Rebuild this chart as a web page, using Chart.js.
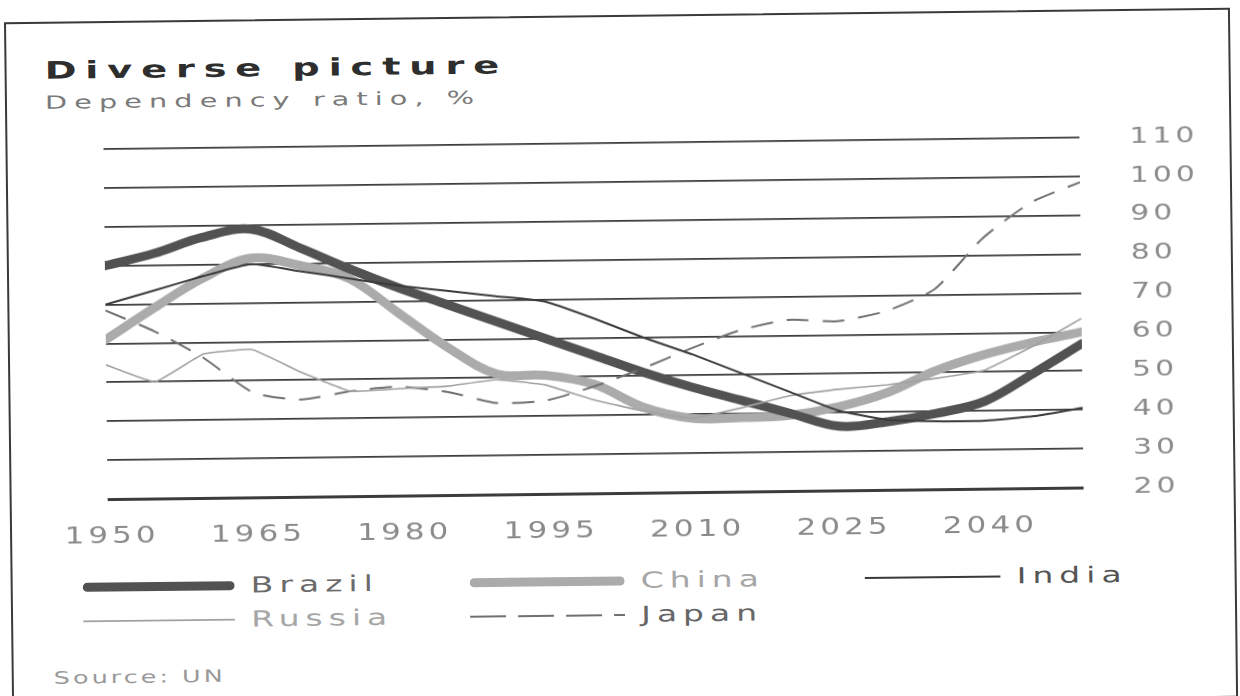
<!DOCTYPE html>
<html>
<head>
<meta charset="utf-8">
<script src="https://cdn.jsdelivr.net/npm/chart.js@4.4.1/dist/chart.umd.min.js"></script>
<style>
  html, body { margin: 0; padding: 0; background: #ffffff; width: 1240px; height: 696px; overflow: hidden; }
  #sheet { position: absolute; left: 0; top: 0; width: 1240px; height: 696px;
           transform: rotate(-0.68deg); transform-origin: 620px 356px; }
  #frame { position: absolute; left: 8px; top: 15px; width: 1226px; height: 690px;
           border: 2px solid #3a3a3a; box-sizing: border-box; }
  .txt { position: absolute; white-space: nowrap; font-family: "DejaVu Sans", sans-serif;
         transform-origin: 0 50%; }
  #title { left: 48px; top: 52px; font-size: 24px; line-height: 24px; font-weight: bold;
           color: #2e2e2e; letter-spacing: 5.5px; transform: scaleX(1.6); }
  #subtitle { left: 48px; top: 87px; font-size: 18px; line-height: 18px; color: #7a7a7a;
              letter-spacing: 4.4px; transform: scaleX(1.6); }
  #source { left: 50px; top: 663px; font-size: 17px; line-height: 17px; color: #9a9a9a;
            letter-spacing: 2px; transform: scaleX(1.5); }
  #chart { position: absolute; left: 0; top: 120px; }
  .leg { position: absolute; height: 22px; }
  .leg svg { position: absolute; left: 0; top: 0; }
  .legtxt { position: absolute; top: 0; font-size: 22px; line-height: 22px; letter-spacing: 4px;
            transform: scaleX(1.5); }
</style>
</head>
<body>
<div id="sheet">
  <div id="frame"></div>
  <div id="title" class="txt">Diverse picture</div>
  <div id="subtitle" class="txt">Dependency ratio, %</div>
  <canvas id="chart" width="1240" height="440"></canvas>
  <div id="legend"></div>
  <div id="source" class="txt">Source: UN</div>
</div>
<script>
// Dependency ratio (%), every five years
const years  = [1950, 1955, 1960, 1965, 1970, 1975, 1980, 1985, 1990, 1995, 2000,
                2005, 2010, 2015, 2020, 2025, 2030, 2035, 2040, 2045, 2050];
const brazil = [80, 83, 87, 89, 84, 78.5, 73.5, 69, 64.5, 60, 55.5,
                51, 47, 43.5, 40, 36.5, 37.5, 39.5, 42.5, 49.5, 57];
const china  = [61, 69, 76.5, 81.5, 79.5, 76, 67, 58, 51, 50.5, 48,
                42, 39, 39, 39.5, 41.5, 45, 50.5, 54.5, 57.5, 60];
const india  = [70, 73.5, 77, 80, 78, 76, 74, 72.5, 71, 69.5, 65,
                60, 55.5, 50.5, 45.5, 40.5, 38, 37.5, 37.5, 38.5, 40.5];
const russia = [54.5, 50, 57, 58, 52, 47, 47.5, 48, 49.5, 48, 44,
                41, 39, 41.5, 44.5, 46, 47, 48.5, 50.5, 56.5, 63.5];
const japan  = [68.5, 63, 56, 47, 45, 47, 48, 46.5, 43.5, 44, 47.5,
                52, 57, 61.5, 64, 63.5, 66, 71.5, 84.5, 93.5, 98.5];

const seriesNames = ['Brazil', 'China', 'India', 'Russia', 'Japan'];
const xTicks = [1950, 1965, 1980, 1995, 2010, 2025, 2040];
const yTicks = [20, 30, 40, 50, 60, 70, 80, 90, 100, 110];

const toPoints = vals => years.map((yr, i) => ({ x: yr, y: vals[i] }));

const datasets = [
  { label: seriesNames[0], data: toPoints(brazil), borderColor: '#525252', borderWidth: 9,
    tension: 0.35, borderCapStyle: 'round', borderJoinStyle: 'round', order: 1 },
  { label: seriesNames[1], data: toPoints(china), borderColor: '#ababab', borderWidth: 9,
    tension: 0.35, borderCapStyle: 'round', borderJoinStyle: 'round', order: 2 },
  { label: seriesNames[2], data: toPoints(india), borderColor: '#3a3a3a', borderWidth: 2,
    tension: 0.15, order: 0 },
  { label: seriesNames[3], data: toPoints(russia), borderColor: '#a2a2a2', borderWidth: 1.6,
    tension: 0.1, order: 0 },
  { label: seriesNames[4], data: toPoints(japan), borderColor: '#707070', borderWidth: 2,
    borderDash: [22, 14], tension: 0.2, order: 0 }
];

// Wide, slightly spaced axis lettering: each label is stretched about its anchor point
const TEXT_STRETCH = 1.35;
const wideText = {
  id: 'wideText',
  beforeDraw(chart) {
    const ctx = chart.ctx;
    ctx.letterSpacing = '3px';
    if (!ctx._plainFillText) {
      ctx._plainFillText = ctx.fillText;
      ctx.fillText = function (text, x, y, maxWidth) {
        this.save();
        this.translate(x, y);
        this.scale(TEXT_STRETCH, 1);
        this._plainFillText(text, 0, 0);
        this.restore();
      };
    }
  },
  afterDraw(chart) { chart.ctx.letterSpacing = '0px'; }
};

const tickFont = { family: '"DejaVu Sans", sans-serif', size: 22 };

const chart = new Chart(document.getElementById('chart').getContext('2d'), {
  type: 'line',
  data: { datasets },
  options: {
    responsive: false,
    animation: false,
    devicePixelRatio: 1,
    layout: { padding: { left: 106, top: 23, right: 0, bottom: 0 } },
    elements: { point: { radius: 0 } },
    plugins: { legend: { display: false }, tooltip: { enabled: false } },
    scales: {
      x: {
        type: 'linear', min: 1950, max: 2050,
        afterBuildTicks: s => { s.ticks = xTicks.map(v => ({ value: v })); },
        afterFit: s => { s.height = 67; s.paddingLeft = 0; s.paddingRight = 0; },
        grid: { display: false, drawTicks: false },
        border: { display: false },
        ticks: { autoSkip: false, maxRotation: 0, padding: 24, labelOffset: 4,
                 color: '#8a8a8a', font: { ...tickFont, size: 23 }, callback: v => String(v) }
      },
      y: {
        position: 'right', min: 20, max: 110,
        afterBuildTicks: s => { s.ticks = yTicks.map(v => ({ value: v })); },
        afterFit: s => { s.width = 158; s.paddingTop = 0; s.paddingBottom = 0; },
        grid: { drawTicks: false, color: '#3c3c3c',
                lineWidth: c => (c.tick && c.tick.value === 20 ? 3 : 1.7) },
        border: { display: false },
        ticks: { padding: 50, color: '#8a8a8a', font: tickFont, callback: v => String(v) }
      }
    }
  },
  plugins: [wideText]
});

// Legend, built from the chart's datasets: three per row
const legendCols = [80, 467, 862];
const legendRows = [581, 615];
const swatchWidths = [152, 155, 136];
const labelColors = ['#6a6a6a', '#a6a6a6', '#555555', '#a6a6a6', '#666666'];
const legendBox = document.getElementById('legend');
chart.data.datasets.forEach((ds, i) => {
  const col = i % 3, row = Math.floor(i / 3);
  const w = swatchWidths[col];
  const item = document.createElement('div');
  item.className = 'leg';
  item.style.left = legendCols[col] + 'px';
  item.style.top = (legendRows[row] - 11) + 'px';
  const thick = ds.borderWidth > 4;
  const pad = thick ? ds.borderWidth / 2 : 0;
  const dash = ds.borderDash ? 'stroke-dasharray="36 12"' : '';
  item.innerHTML =
    `<svg width="${w}" height="22"><line x1="${pad}" y1="11" x2="${w - pad}" y2="11"
      stroke="${ds.borderColor}" stroke-width="${ds.borderWidth}"
      stroke-linecap="${thick ? 'round' : 'butt'}" ${dash}/></svg>` +
    `<span class="legtxt txt" style="left:${w + 16}px;color:${labelColors[i]}">${ds.label}</span>`;
  legendBox.appendChild(item);
});
</script>
</body>
</html>
